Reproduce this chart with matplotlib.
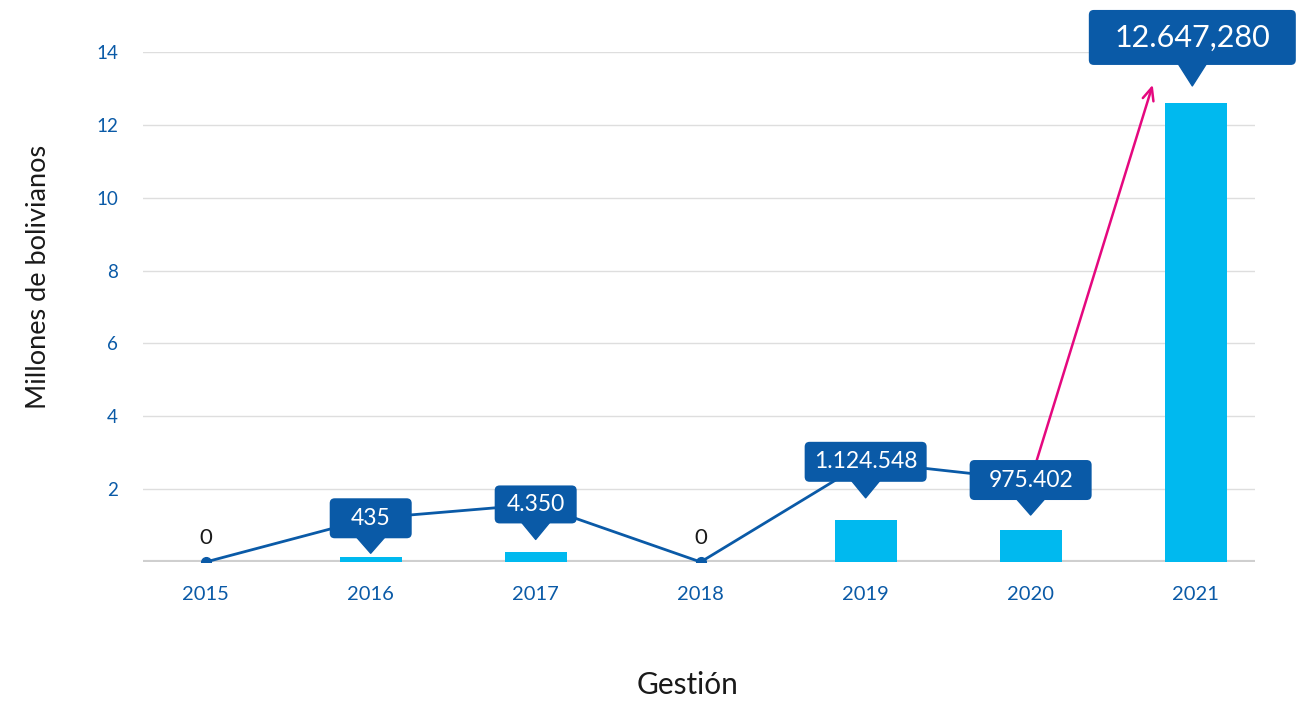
"""
Gráfico de barras + línea: montos por gestión (millones de bolivianos).
Salida: out.png (~1305x701 px).
"""

import matplotlib.pyplot as plt
from matplotlib.patches import FancyBboxPatch, Polygon
from matplotlib.transforms import ScaledTranslation


# --- datos ---
YEARS = ["2015", "2016", "2017", "2018", "2019", "2020", "2021"]
BAR_VALUES = [0.0, 0.14, 0.27, 0.0, 1.15, 0.88, 12.6]
LINE_VALUES = [0.0, 1.2, 1.58, 0.0, 2.75, 2.25]         # 2015..2020
CALLOUT_TEXT = [None, "435", "4.350", None, "1.124.548", "975.402", "12.647,280"]
ZERO_TEXT = ["0", None, None, "0", None, None, None]
ARROW_END = (5.74, 13.1)       # punta de la flecha rosa
CALLOUT_2021_Y = 14.4          # centro de la etiqueta grande de 2021

# colores
BAR_COLOR = "#00B9EF"
DARK_BLUE = "#0A5AA7"
PINK = "#E5087F"
GRID = "#DEDEDE"
BASE = "#CFCFCF"

# tamaño de las etiquetas (pulgadas, dpi=100): ancho, alto, punta
BOX_SIZE = [None, (0.82, 0.40, 0.15), (0.82, 0.38, 0.16), None,
            (1.22, 0.40, 0.16), (1.22, 0.40, 0.15), (2.07, 0.55, 0.21)]

plt.rcParams["font.family"] = ["Lato", "DejaVu Sans"]

fig = plt.figure(figsize=(13.05, 7.01), dpi=100)
ax = fig.add_axes([0.1096, 0.1983, 0.8521, 0.7275])

x = list(range(len(YEARS)))

# barras
ax.bar(x, BAR_VALUES, width=0.375, color=BAR_COLOR, zorder=2)

# grilla y eje base
for yv in range(2, 15, 2):
    ax.axhline(yv, color=GRID, linewidth=1.0, zorder=0)
ax.axhline(0, color=BASE, linewidth=3.0, zorder=1)

# línea azul
ax.plot(x[:len(LINE_VALUES)], LINE_VALUES, color=DARK_BLUE, linewidth=2.0,
        marker="o", markersize=7, zorder=3)

# flecha rosa desde 2020 hacia 2021
ax.annotate("", xy=ARROW_END, xytext=(x[5], LINE_VALUES[5]),
            arrowprops=dict(arrowstyle="->,head_length=0.9,head_width=0.4",
                            color=PINK, linewidth=1.8, shrinkA=0, shrinkB=0),
            zorder=3, annotation_clip=False)


def callout(ax, xc, yc, text, size, fontsize):
    """Etiqueta azul redondeada con punta hacia abajo, centrada en (xc, yc)."""
    w, h, tip = size
    trans = fig.dpi_scale_trans + ScaledTranslation(xc, yc, ax.transData)
    box = FancyBboxPatch((-w / 2, -h / 2), w, h,
                         boxstyle="round,pad=0,rounding_size=0.05",
                         transform=trans, facecolor=DARK_BLUE, edgecolor="none",
                         zorder=5, clip_on=False)
    ax.add_patch(box)
    tri = Polygon([(-0.14, -h / 2 + 0.01), (0.14, -h / 2 + 0.01), (0, -h / 2 - tip)],
                  closed=True, transform=trans, facecolor=DARK_BLUE,
                  edgecolor=DARK_BLUE, linewidth=1.0, joinstyle="round",
                  zorder=5, clip_on=False)
    ax.add_patch(tri)
    ax.text(xc, yc, text, ha="center", va="center", color="white",
            fontsize=fontsize, zorder=6, clip_on=False)


for i, label in enumerate(CALLOUT_TEXT):
    if label is None:
        continue
    if i < len(LINE_VALUES):
        callout(ax, x[i], LINE_VALUES[i], label, BOX_SIZE[i], 16.5)
    else:
        callout(ax, x[i] - 0.02, CALLOUT_2021_Y, label, BOX_SIZE[i], 22)

for i, label in enumerate(ZERO_TEXT):
    if label is None:
        continue
    ax.annotate(label, xy=(x[i], BAR_VALUES[i]), xytext=(0, 17),
                textcoords="offset points", ha="center", va="center",
                fontsize=16, color="#1A1A1A", zorder=6)

# ejes
ax.set_xlim(-0.38, 6.36)
ax.set_ylim(0, 14)
ax.set_xticks(x)
ax.set_xticklabels(YEARS)
ax.set_yticks(range(2, 15, 2))
ax.tick_params(axis="both", length=0, labelcolor=DARK_BLUE)
ax.tick_params(axis="x", labelsize=14.5, pad=17)
ax.tick_params(axis="y", labelsize=13.5, pad=18)
for side in ax.spines.values():
    side.set_visible(False)

ax.set_ylabel("Millones de bolivianos", fontsize=19.5, color="#1A1A1A")
ax.yaxis.set_label_coords(-0.083, 0.559)
ax.set_xlabel("Gestión", fontsize=21.5, color="#1A1A1A")
ax.xaxis.set_label_coords(0.49, -0.213)

fig.savefig("out.png", dpi=100)
